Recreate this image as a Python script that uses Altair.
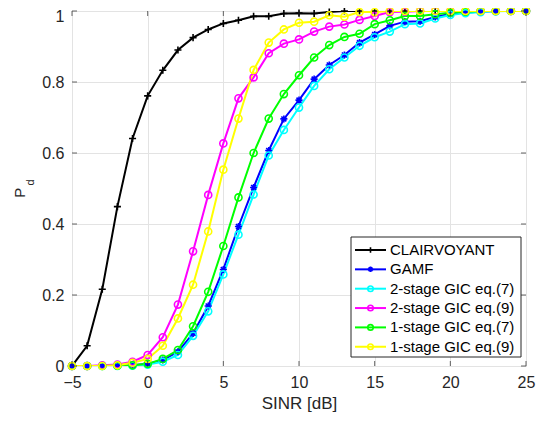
import altair as alt
import pandas as pd

snr = list(range(-5, 26))
series_names = ["CLAIRVOYANT", "GAMF", "2-stage GIC eq.(7)", "2-stage GIC eq.(9)",
                "1-stage GIC eq.(7)", "1-stage GIC eq.(9)"]
series_colors = ["#000000", "#0000ff", "#00ffff", "#ff00ff", "#00ff00", "#ffff00"]

clairvoyant = [0, 0.057, 0.216, 0.449, 0.641, 0.761, 0.833, 0.890, 0.925, 0.948,
               0.965, 0.974, 0.985, 0.985, 0.993, 0.994, 0.993, 0.997, 1.0, 1.0, 1.0,
               1, 1, 1, 1, 1, 1, 1, 1, 1, 1]
gamf = [0, 0, 0, 0.001, 0.002, 0.006, 0.017, 0.040, 0.092, 0.169,
        0.272, 0.393, 0.503, 0.607, 0.696, 0.749, 0.808, 0.848, 0.876, 0.911, 0.934,
        0.958, 0.970, 0.971, 0.983, 0.992, 0.996, 0.998, 1, 1, 1]
gic2_eq7 = [0, 0, 0, 0, 0.001, 0.004, 0.012, 0.031, 0.085, 0.154,
            0.258, 0.370, 0.483, 0.593, 0.665, 0.728, 0.789, 0.836, 0.869, 0.902, 0.926,
            0.942, 0.963, 0.965, 0.979, 0.989, 0.994, 0.997, 0.999, 1, 1]
gic2_eq9 = [0, 0, 0.002, 0.004, 0.012, 0.031, 0.081, 0.173, 0.323, 0.482,
            0.627, 0.754, 0.813, 0.881, 0.908, 0.920, 0.942, 0.956, 0.962, 0.975, 0.986,
            0.997, 0.998, 1, 1, 1, 1, 1, 1, 1, 1]
gic1_eq7 = [0, 0, 0, 0.001, 0.002, 0.006, 0.020, 0.045, 0.112, 0.209,
            0.338, 0.475, 0.600, 0.697, 0.766, 0.819, 0.869, 0.904, 0.927, 0.936, 0.963,
            0.974, 0.986, 0.986, 0.991, 0.995, 0.998, 1, 1, 1, 1]
gic1_eq9 = [0, 0, 0, 0.002, 0.009, 0.020, 0.057, 0.134, 0.229, 0.379,
            0.553, 0.697, 0.834, 0.911, 0.948, 0.967, 0.970, 0.988, 0.984, 0.997, 0.997,
            1, 1, 1, 1, 1, 1, 1, 1, 1, 1]

x_ticks = [-5, 0, 5, 10, 15, 20, 25]
y_ticks = [0, 0.2, 0.4, 0.6, 0.8, 1]

all_series = [clairvoyant, gamf, gic2_eq7, gic2_eq9, gic1_eq7, gic1_eq9]
rows = []
for k, (name, vals) in enumerate(zip(series_names, all_series)):
    for x, v in zip(snr, vals):
        rows.append({"series": name, "order": k, "snr": x, "pd": v})
df = pd.DataFrame(rows)

FONT = "Liberation Sans"
TXT = "#262626"
TOP = 3
W, H = 454, 366 - 8 - TOP

plus_path = "M-1,0H1M0,-1V1"
star_path = "M-1,0H1M0,-1V1M-0.7,-0.7L0.7,0.7M-0.7,0.7L0.7,-0.7"
shapes = [plus_path, star_path, "circle", "circle", "circle", "circle"]

color_scale = alt.Scale(domain=series_names, range=series_colors)
shape_scale = alt.Scale(domain=series_names, range=shapes)

xs = alt.Scale(domain=[-5, 25], nice=False)
ys = alt.Scale(domain=[0, 1], nice=False)

x_enc = alt.X("snr:Q", scale=xs,
              axis=alt.Axis(values=x_ticks, title="SINR [dB]", grid=True, ticks=False,
                            domain=False, labelPadding=8, titlePadding=5,
                            labelFontSize=16, titleFontSize=17, labelFont=FONT,
                            titleFont=FONT, titleFontWeight="normal",
                            labelColor=TXT, titleColor=TXT, gridColor="#e3e3e3",
                            labelFlush=False))
y_enc = alt.Y("pd:Q", scale=ys,
              axis=alt.Axis(values=y_ticks, title=None, grid=True, ticks=False,
                            domain=False, labelPadding=8, format=".1~f",
                            labelFontSize=16, labelFont=FONT, labelColor=TXT,
                            gridColor="#e3e3e3", labelFlush=False,
                            labelOffset={"condition": {"test": "datum.value == 1", "value": 5},
                                         "value": 0}))

lines = alt.Chart(df).mark_line(strokeWidth=2, clip=True).encode(
    x=x_enc, y=y_enc,
    color=alt.Color("series:N", scale=color_scale, legend=None),
    detail="series:N",
    order="snr:Q",
)
points = alt.Chart(df).mark_point(filled=False, strokeWidth=1.6, size=50, opacity=1).encode(
    x=alt.X("snr:Q", scale=xs), y=alt.Y("pd:Q", scale=ys),
    color=alt.Color("series:N", scale=color_scale, legend=None),
    shape=alt.Shape("series:N", scale=shape_scale, legend=None),
    order="order:Q",
)

# inward ticks
tick_x = pd.DataFrame({"t": x_ticks})
tick_y = pd.DataFrame({"t": y_ticks})
TL = 5
tb = alt.Chart(tick_x).mark_tick(color=TXT, size=TL, thickness=1, orient="vertical").encode(
    x=alt.X("t:Q", scale=xs), y=alt.value(H - TL / 2))
tt = alt.Chart(tick_x).mark_tick(color=TXT, size=TL, thickness=1, orient="vertical").encode(
    x=alt.X("t:Q", scale=xs), y=alt.value(TL / 2))
tl = alt.Chart(tick_y).mark_tick(color=TXT, size=TL, thickness=1, orient="horizontal").encode(
    y=alt.Y("t:Q", scale=ys), x=alt.value(TL / 2))
tr = alt.Chart(tick_y).mark_tick(color=TXT, size=TL, thickness=1, orient="horizontal").encode(
    y=alt.Y("t:Q", scale=ys), x=alt.value(W - TL / 2))

# y title P_d
ytitle_p = alt.Chart(pd.DataFrame({"t": ["P"]})).mark_text(
    angle=270, font=FONT, fontSize=15, color=TXT, align="center", baseline="middle").encode(
    text="t:N", x=alt.value(-52), y=alt.value(192.7 - 8 - TOP))
ytitle_d = alt.Chart(pd.DataFrame({"t": ["d"]})).mark_text(
    angle=270, font=FONT, fontSize=11, color=TXT, align="center", baseline="middle").encode(
    text="t:N", x=alt.value(-41), y=alt.value(182.5 - 8 - TOP))

# legend
OY = 8 + TOP
LX0, LX1, LY0, LY1 = 279, 449, 237 - OY, 357 - OY
leg_rows = []
for i, name in enumerate(series_names):
    leg_rows.append({"series": name, "ly": 250 - OY + i * 19.35})
leg = pd.DataFrame(leg_rows)

leg_box = alt.Chart(pd.DataFrame({"a": [0]})).mark_rect(
    fill="white", stroke=TXT, strokeWidth=1).encode(
    x=alt.value(LX0), x2=alt.value(LX1), y=alt.value(LY0), y2=alt.value(LY1))
leg_line = alt.Chart(leg).mark_rule(strokeWidth=2).encode(
    x=alt.value(283), x2=alt.value(314),
    y=alt.Y("ly:Q", scale=None),
    color=alt.Color("series:N", scale=color_scale, legend=None))
leg_pt = alt.Chart(leg).mark_point(filled=False, strokeWidth=1.6, size=30, opacity=1).encode(
    x=alt.value(298.5),
    y=alt.Y("ly:Q", scale=None),
    color=alt.Color("series:N", scale=color_scale, legend=None),
    shape=alt.Shape("series:N", scale=shape_scale, legend=None))
leg_txt = alt.Chart(leg).mark_text(font=FONT, fontSize=15, color="#000000",
                                   align="left", baseline="middle").encode(
    x=alt.value(318), y=alt.Y("ly:Q", scale=None), text="series:N")

chart = alt.layer(
    lines, points, tb, tt, tl, tr, ytitle_p, ytitle_d,
    leg_box, leg_line, leg_pt, leg_txt
).properties(
    width=W, height=H,
    padding={"left": 64, "top": TOP, "right": 10, "bottom": 48},
    autosize=alt.AutoSizeParams(type="none"),
).configure_view(stroke=TXT, strokeWidth=1).configure(background="white")

chart.save("out.html", embed_options={"renderer": "svg", "actions": False})
